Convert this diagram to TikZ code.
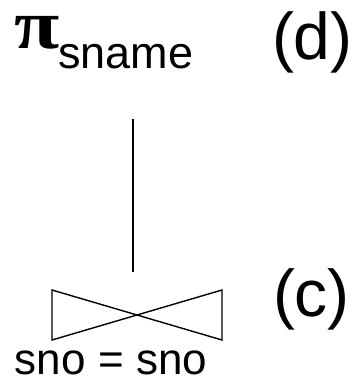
\documentclass[tikz,border=0pt]{standalone}
\usepackage{fontspec}
\setmainfont{Liberation Sans}
\newfontfamily\greekbold{Liberation Serif}[BoldFont={Liberation Serif Bold}]
\begin{document}
\begin{tikzpicture}[x=1pt,y=-1pt,
  lbl/.style={inner sep=0pt, outer sep=0pt, anchor=base west},
  edge/.style={line width=1.4pt, line join=miter}]
\useasboundingbox (0,0) rectangle (352,381);
% projection operator
\node[lbl, xscale=1.18] (pi) at (15,48) {\fontsize{70}{70}\selectfont\greekbold\bfseries π};
\node[lbl] (sname) at (58,68) {\fontsize{45}{45}\selectfont sname};
\node[lbl] (d) at (272,59) {\fontsize{66}{66}\selectfont (d)};
% join operator (bow tie)
\coordinate (top) at (133,119);
\coordinate (jtop) at (133,272);
\coordinate (jc) at (137,315);
\coordinate (jl1) at (52,290);
\coordinate (jl2) at (52,340);
\coordinate (jr1) at (222,290);
\coordinate (jr2) at (222,340);
\draw[edge] (top) -- (jtop);
\draw[edge] (jc) -- (jl1) -- (jl2) -- cycle;
\draw[edge] (jc) -- (jr1) -- (jr2) -- cycle;
\node[lbl] (c) at (273,316) {\fontsize{66}{66}\selectfont (c)};
\node[lbl] (cond) at (15,374) {\fontsize{44}{44}\selectfont sno = sno};
\end{tikzpicture}
\end{document}
